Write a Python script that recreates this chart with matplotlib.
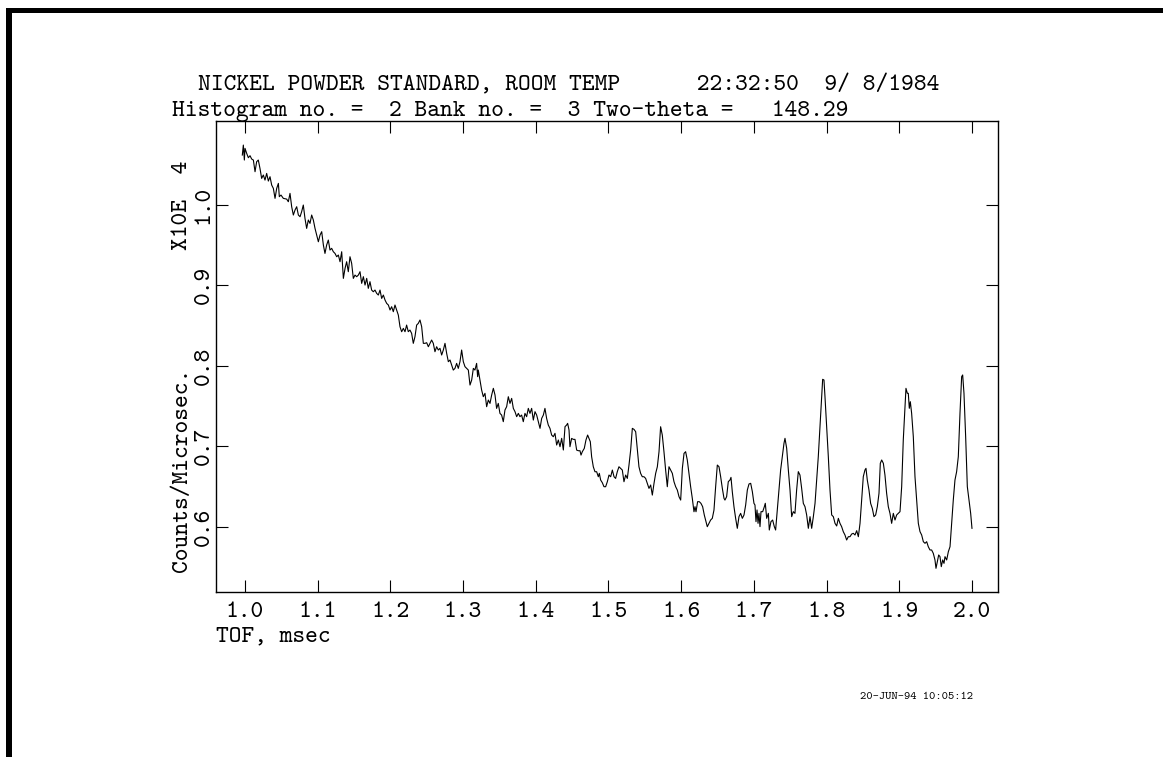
import matplotlib
matplotlib.use("Agg")
import matplotlib.pyplot as plt
from matplotlib.patches import Rectangle

# TOF (msec) vs counts/microsec (x10^4) in pieces
seg_100_122 = [
    (0.9963, 1.0617), (0.9977, 1.0741), (0.9991, 1.0555), (1.0000, 1.0700), (1.0023, 1.0638),
    (1.0046, 1.0584), (1.0069, 1.0609), (1.0092, 1.0567), (1.0115, 1.0555), (1.0138, 1.0410),
    (1.0160, 1.0534), (1.0183, 1.0555), (1.0206, 1.0451), (1.0229, 1.0327), (1.0252, 1.0369),
    (1.0275, 1.0306), (1.0298, 1.0389), (1.0321, 1.0294), (1.0344, 1.0348), (1.0367, 1.0244),
    (1.0390, 1.0203), (1.0413, 1.0079), (1.0436, 1.0203), (1.0459, 1.0265), (1.0472, 1.0100),
    (1.0495, 1.0120), (1.0527, 1.0079), (1.0573, 1.0070), (1.0596, 1.0037), (1.0619, 1.0141),
    (1.0642, 0.9975), (1.0665, 0.9872), (1.0688, 0.9934), (1.0711, 0.9975), (1.0734, 0.9872),
    (1.0757, 0.9851), (1.0779, 0.9913), (1.0802, 0.9996), (1.0825, 0.9830), (1.0848, 0.9706),
    (1.0871, 0.9810), (1.0894, 0.9768), (1.0917, 0.9872), (1.0940, 0.9810), (1.0963, 0.9706),
    (1.0986, 0.9623), (1.1009, 0.9540), (1.1032, 0.9623), (1.1055, 0.9665), (1.1078, 0.9499),
    (1.1100, 0.9395), (1.1123, 0.9499), (1.1146, 0.9561), (1.1169, 0.9437), (1.1192, 0.9458),
    (1.1215, 0.9416), (1.1238, 0.9395), (1.1261, 0.9354), (1.1284, 0.9375), (1.1307, 0.9292),
    (1.1330, 0.9416), (1.1353, 0.9085), (1.1376, 0.9209), (1.1398, 0.9292), (1.1421, 0.9168),
    (1.1444, 0.9354), (1.1467, 0.9272), (1.1490, 0.9085), (1.1513, 0.9126), (1.1536, 0.9106),
    (1.1559, 0.9126), (1.1582, 0.9168), (1.1605, 0.9023), (1.1628, 0.9106), (1.1651, 0.9002),
    (1.1674, 0.9085), (1.1696, 0.8961), (1.1719, 0.9044), (1.1742, 0.8940), (1.1765, 0.8919),
    (1.1788, 0.8940), (1.1811, 0.8899), (1.1834, 0.8878), (1.1857, 0.8940), (1.1880, 0.8836),
    (1.1903, 0.8878), (1.1926, 0.8816), (1.1949, 0.8774), (1.1972, 0.8754), (1.1995, 0.8692),
    (1.2017, 0.8733), (1.2040, 0.8671), (1.2063, 0.8754), (1.2086, 0.8692), (1.2109, 0.8629),
    (1.2132, 0.8484), (1.2155, 0.8422), (1.2178, 0.8464), (1.2201, 0.8422),
]

seg_122_144 = [
    (1.2223, 0.8505), (1.2246, 0.8423), (1.2269, 0.8443), (1.2292, 0.8402), (1.2315, 0.8278),
    (1.2338, 0.8361), (1.2361, 0.8505), (1.2384, 0.8526), (1.2407, 0.8568), (1.2430, 0.8485),
    (1.2453, 0.8278), (1.2476, 0.8278), (1.2499, 0.8286), (1.2522, 0.8236), (1.2544, 0.8278),
    (1.2567, 0.8319), (1.2590, 0.8278), (1.2613, 0.8174), (1.2636, 0.8236), (1.2659, 0.8195),
    (1.2682, 0.8216), (1.2705, 0.8133), (1.2728, 0.8195), (1.2751, 0.8278), (1.2774, 0.8153),
    (1.2797, 0.8050), (1.2820, 0.8071), (1.2842, 0.8009), (1.2865, 0.7946), (1.2888, 0.7967),
    (1.2911, 0.8029), (1.2934, 0.7967), (1.2957, 0.8050), (1.2980, 0.8195), (1.3003, 0.8050),
    (1.3026, 0.7988), (1.3049, 0.7967), (1.3072, 0.7946), (1.3095, 0.7760), (1.3118, 0.7822),
    (1.3141, 0.7967), (1.3163, 0.7946), (1.3186, 0.8029), (1.3200, 0.7864), (1.3209, 0.7946),
    (1.3232, 0.7822), (1.3255, 0.7698), (1.3278, 0.7615), (1.3301, 0.7657), (1.3324, 0.7491),
    (1.3347, 0.7574), (1.3370, 0.7532), (1.3393, 0.7636), (1.3416, 0.7719), (1.3439, 0.7636),
    (1.3461, 0.7470), (1.3484, 0.7532), (1.3507, 0.7408), (1.3530, 0.7387), (1.3553, 0.7305),
    (1.3576, 0.7450), (1.3599, 0.7491), (1.3622, 0.7615), (1.3645, 0.7532), (1.3668, 0.7594),
    (1.3691, 0.7470), (1.3714, 0.7429), (1.3737, 0.7367), (1.3760, 0.7408), (1.3782, 0.7367),
    (1.3805, 0.7387), (1.3828, 0.7305), (1.3851, 0.7408), (1.3874, 0.7367), (1.3897, 0.7470),
    (1.3920, 0.7408), (1.3943, 0.7470), (1.3966, 0.7325), (1.3989, 0.7429), (1.4012, 0.7387),
    (1.4035, 0.7305), (1.4058, 0.7222), (1.4081, 0.7346), (1.4104, 0.7387), (1.4126, 0.7470),
    (1.4149, 0.7346), (1.4172, 0.7263), (1.4195, 0.7222), (1.4218, 0.7139), (1.4241, 0.7118),
    (1.4264, 0.7160), (1.4287, 0.7015), (1.4310, 0.7077), (1.4333, 0.6994), (1.4356, 0.7098),
    (1.4379, 0.6953), (1.4402, 0.7243),
]

seg_144_166 = [
    (1.4424, 0.7263), (1.4438, 0.7284), (1.4457, 0.7201), (1.4470, 0.6994), (1.4493, 0.7097),
    (1.4516, 0.7085), (1.4539, 0.7085), (1.4562, 0.6952), (1.4585, 0.6944), (1.4608, 0.6944),
    (1.4622, 0.6890), (1.4640, 0.6932), (1.4667, 0.6973), (1.4690, 0.7077), (1.4713, 0.7139),
    (1.4732, 0.7097), (1.4750, 0.7056), (1.4768, 0.6870), (1.4791, 0.6745), (1.4814, 0.6683),
    (1.4837, 0.6683), (1.4860, 0.6621), (1.4874, 0.6663), (1.4892, 0.6580), (1.4915, 0.6547),
    (1.4938, 0.6497), (1.4961, 0.6497), (1.4984, 0.6559), (1.5007, 0.6642), (1.5030, 0.6621),
    (1.5053, 0.6704), (1.5076, 0.6621), (1.5098, 0.6600), (1.5121, 0.6683), (1.5144, 0.6745),
    (1.5167, 0.6725), (1.5190, 0.6704), (1.5213, 0.6559), (1.5236, 0.6642), (1.5259, 0.6600),
    (1.5282, 0.6766), (1.5305, 0.6952), (1.5328, 0.7222), (1.5351, 0.7209), (1.5374, 0.7180),
    (1.5397, 0.6952), (1.5419, 0.6745), (1.5442, 0.6663), (1.5465, 0.6621), (1.5488, 0.6621),
    (1.5511, 0.6600), (1.5534, 0.6538), (1.5557, 0.6476), (1.5580, 0.6518), (1.5603, 0.6393),
    (1.5626, 0.6538), (1.5649, 0.6663), (1.5672, 0.6745), (1.5695, 0.6932), (1.5717, 0.7242),
    (1.5740, 0.7139), (1.5763, 0.6932), (1.5786, 0.6704), (1.5809, 0.6497), (1.5832, 0.6745),
    (1.5855, 0.6704), (1.5878, 0.6663), (1.5901, 0.6559), (1.5924, 0.6497), (1.5947, 0.6455),
    (1.5970, 0.6373), (1.5993, 0.6331), (1.6016, 0.6725), (1.6039, 0.6911), (1.6061, 0.6932),
    (1.6084, 0.6828), (1.6107, 0.6663), (1.6130, 0.6497), (1.6153, 0.6352), (1.6176, 0.6186),
    (1.6190, 0.6249), (1.6204, 0.6186), (1.6226, 0.6311), (1.6249, 0.6311), (1.6272, 0.6290),
    (1.6295, 0.6249), (1.6318, 0.6145), (1.6341, 0.6062), (1.6359, 0.6000), (1.6382, 0.6041),
    (1.6405, 0.6083), (1.6428, 0.6104), (1.6451, 0.6207), (1.6474, 0.6497), (1.6497, 0.6766),
    (1.6520, 0.6745), (1.6543, 0.6621), (1.6566, 0.6476), (1.6589, 0.6352), (1.6602, 0.6331),
]

seg_166_188 = [
    (1.6625, 0.6373), (1.6648, 0.6560), (1.6671, 0.6580), (1.6685, 0.6613), (1.6703, 0.6435),
    (1.6726, 0.6249), (1.6749, 0.6104), (1.6772, 0.5980), (1.6795, 0.6125), (1.6818, 0.6166),
    (1.6841, 0.6104), (1.6864, 0.6146), (1.6887, 0.6270), (1.6910, 0.6456), (1.6933, 0.6531),
    (1.6956, 0.6539), (1.6979, 0.6435), (1.7001, 0.6290), (1.7015, 0.6270), (1.7029, 0.6063),
    (1.7043, 0.6208), (1.7057, 0.6042), (1.7070, 0.6166), (1.7084, 0.6001), (1.7098, 0.6187),
    (1.7121, 0.6187), (1.7144, 0.6249), (1.7157, 0.6291), (1.7176, 0.6104), (1.7199, 0.6166),
    (1.7212, 0.5959), (1.7235, 0.6063), (1.7258, 0.6083), (1.7281, 0.6001), (1.7299, 0.5959),
    (1.7322, 0.6208), (1.7345, 0.6456), (1.7368, 0.6705), (1.7391, 0.6870), (1.7414, 0.7036),
    (1.7428, 0.7098), (1.7451, 0.6974), (1.7474, 0.6705), (1.7497, 0.6456), (1.7520, 0.6125),
    (1.7542, 0.6187), (1.7565, 0.6166), (1.7588, 0.6456), (1.7611, 0.6684), (1.7634, 0.6642),
    (1.7657, 0.6477), (1.7680, 0.6290), (1.7703, 0.6249), (1.7726, 0.6146), (1.7749, 0.5980),
    (1.7772, 0.6125), (1.7795, 0.5980), (1.7818, 0.6125), (1.7841, 0.6290), (1.7863, 0.6580),
    (1.7886, 0.6870), (1.7909, 0.7243), (1.7932, 0.7636), (1.7946, 0.7831), (1.7964, 0.7823),
    (1.7978, 0.7616), (1.8001, 0.7243), (1.8024, 0.6870), (1.8047, 0.6456), (1.8070, 0.6146),
    (1.8093, 0.6125), (1.8116, 0.6042), (1.8139, 0.6009), (1.8162, 0.6104), (1.8184, 0.6042),
    (1.8207, 0.6001), (1.8230, 0.5938), (1.8253, 0.5897), (1.8276, 0.5835), (1.8299, 0.5876),
    (1.8322, 0.5876), (1.8345, 0.5909), (1.8368, 0.5918), (1.8391, 0.5897), (1.8414, 0.5951),
    (1.8437, 0.5876), (1.8460, 0.6042), (1.8483, 0.6332), (1.8505, 0.6622), (1.8528, 0.6705),
    (1.8542, 0.6725), (1.8560, 0.6580), (1.8583, 0.6456), (1.8606, 0.6290), (1.8629, 0.6228),
    (1.8652, 0.6125), (1.8675, 0.6146), (1.8698, 0.6249), (1.8721, 0.6415), (1.8739, 0.6787),
    (1.8758, 0.6829), (1.8781, 0.6787), (1.8803, 0.6642),
]

seg_188_200 = [
    (1.8826, 0.6415), (1.8849, 0.6249), (1.8872, 0.6166), (1.8895, 0.6042), (1.8918, 0.6166),
    (1.8941, 0.6083), (1.8964, 0.6146), (1.8987, 0.6166), (1.9010, 0.6187), (1.9033, 0.6498),
    (1.9055, 0.7077), (1.9078, 0.7491), (1.9092, 0.7719), (1.9111, 0.7657), (1.9124, 0.7657),
    (1.9138, 0.7471), (1.9152, 0.7553), (1.9170, 0.7408), (1.9193, 0.7119), (1.9216, 0.6622),
    (1.9239, 0.6332), (1.9262, 0.6042), (1.9285, 0.5939), (1.9308, 0.5897), (1.9331, 0.5814),
    (1.9354, 0.5794), (1.9377, 0.5814), (1.9399, 0.5752), (1.9422, 0.5711), (1.9445, 0.5711),
    (1.9468, 0.5669), (1.9491, 0.5587), (1.9505, 0.5483), (1.9528, 0.5587), (1.9542, 0.5649),
    (1.9560, 0.5628), (1.9578, 0.5504), (1.9597, 0.5587), (1.9615, 0.5545), (1.9629, 0.5628),
    (1.9652, 0.5587), (1.9675, 0.5690), (1.9698, 0.5752), (1.9720, 0.6042), (1.9743, 0.6332),
    (1.9766, 0.6580), (1.9789, 0.6684), (1.9812, 0.6870), (1.9835, 0.7408), (1.9858, 0.7864),
    (1.9872, 0.7885), (1.9890, 0.7657), (1.9913, 0.7119), (1.9936, 0.6498), (1.9959, 0.6332),
    (1.9982, 0.6166), (2.0000, 0.5980),
]

x_ticks = [1.0, 1.1, 1.2, 1.3, 1.4, 1.5, 1.6, 1.7, 1.8, 1.9, 2.0]
x_tick_labels = ["1.0", "1.1", "1.2", "1.3", "1.4", "1.5", "1.6", "1.7", "1.8", "1.9", "2.0"]
y_ticks = [0.6, 0.7, 0.8, 0.9, 1.0]
y_tick_labels = ["0.6", "0.7", "0.8", "0.9", "1.0"]

title_1 = "NICKEL POWDER STANDARD, ROOM TEMP      22:32:50  9/ 8/1984"
title_2 = "Histogram no. =  2 Bank no. =  3 Two-theta =   148.29"
stamp = "20-JUN-94 10:05:12"

W, H = 1163, 757
FONT = "cmtt10"
FS = 17.5

plt.rcParams["font.family"] = FONT


def fx(p):
    return p / W


def fy(p):
    return 1 - p / H


points = seg_100_122 + seg_122_144 + seg_144_166 + seg_166_188 + seg_188_200
tof = [p[0] for p in points]
counts = [p[1] for p in points]

fig = plt.figure(figsize=(W / 100, H / 100), dpi=100)
ax = fig.add_axes([fx(216), fy(592), (998 - 216) / W, (592 - 121) / H])

ax.plot(tof, counts, color="black", lw=0.8)

ax.set_xlim(0.9601, 2.0358)
ax.set_ylim(0.5189, 1.104)
ax.set_xticks(x_ticks)
ax.set_xticklabels(x_tick_labels)
ax.set_yticks(y_ticks)
ax.set_yticklabels(y_tick_labels, rotation=90, va="center")
ax.tick_params(direction="in", length=8.6, width=0.8, top=True, right=True,
               labelsize=FS)
ax.tick_params(axis="x", pad=7)
ax.tick_params(axis="y", pad=1)
for sp in ax.spines.values():
    sp.set_linewidth(1.0)

ax.set_xlabel("TOF, msec", fontsize=FS, ha="left", va="baseline")
ax.xaxis.set_label_coords(0.0, (592 - 641.5) / 471)
ax.set_ylabel("Counts/Microsec.", fontsize=FS, rotation=90,
              rotation_mode="anchor", ha="left", va="baseline")
ax.yaxis.set_label_coords((186.7 - 216) / 782, (592 - 571.7) / 471)

fig.text(fx(186.7), fy(250), "X10E  4", fontsize=FS, rotation=90,
         rotation_mode="anchor", ha="left", va="baseline")
fig.text(fx(197.6), fy(90.8), title_1, fontsize=FS, ha="left", va="baseline")
fig.text(fx(172), fy(115.5), title_2, fontsize=FS, ha="left", va="baseline")
fig.text(fx(860), fy(699), stamp, fontsize=8.6, ha="left", va="baseline")

# thick frame on top and left edge of the page
fig.add_artist(Rectangle((fx(6), fy(12.7)), 1 - fx(6), (12.7 - 8.3) / H,
                         transform=fig.transFigure, color="black", lw=0))
fig.add_artist(Rectangle((fx(6), 0), (11.7 - 6) / W, fy(8.3),
                         transform=fig.transFigure, color="black", lw=0))

fig.savefig("out.png", dpi=100)
